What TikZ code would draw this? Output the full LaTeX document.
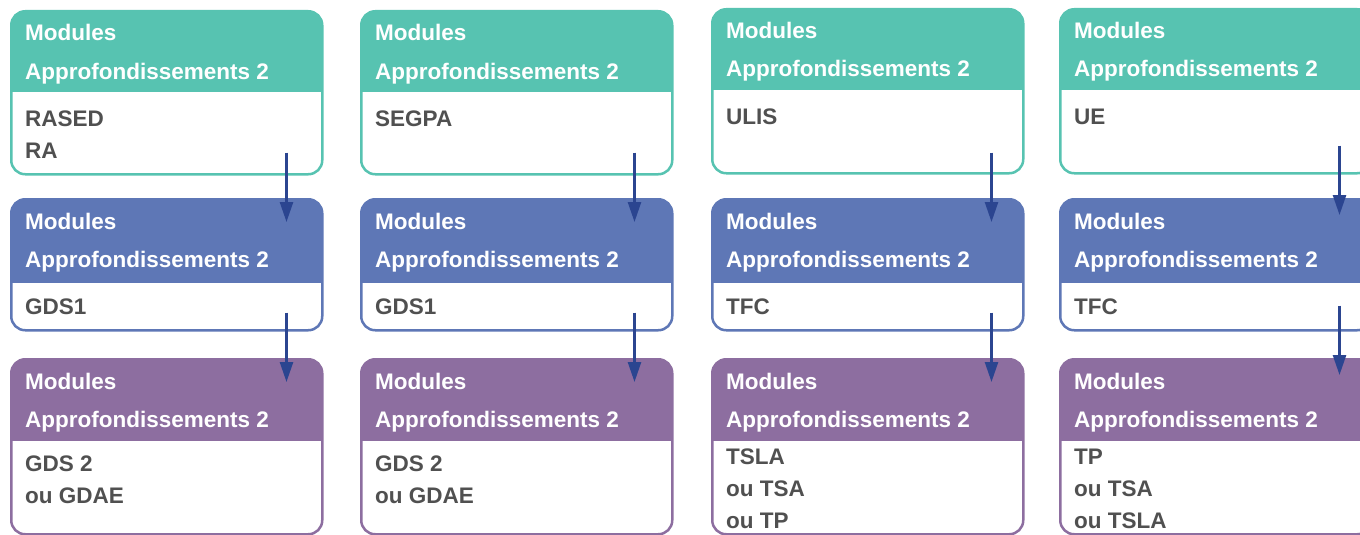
\documentclass[tikz,border=0pt]{standalone}
\usepackage{fontspec}
\setmainfont{Liberation Sans}
\usetikzlibrary{arrows.meta}
\definecolor{modTeal}{HTML}{57C3B1}
\definecolor{modBlue}{HTML}{5E77B6}
\definecolor{modPurple}{HTML}{8D6EA0}
\definecolor{modText}{HTML}{505050}
\definecolor{modArrow}{HTML}{2B4590}
\tikzset{
  modbox/.style 2 args={draw=#1,fill=white,line width=2.5pt,rounded corners=14pt,
    anchor=north west,minimum width=311pt,inner sep=0pt,
    path picture={\fill[#1,sharp corners] (path picture bounding box.north west) rectangle
      ([yshift=-#2pt]path picture bounding box.north east);}},
  headtxt/.style={anchor=base west,inner sep=0pt,text=white,
    font=\bfseries\fontsize{22.5}{26}\selectfont},
  bodytxt/.style={anchor=base west,inner sep=0pt,text=modText,
    font=\bfseries\fontsize{22.5}{26}\selectfont},
  arr/.style={modArrow,line width=2.5pt,-{Triangle[length=20pt,width=13pt]}}
}
% name, x, y, height, colour, [header height], [body offset], body lines
\NewDocumentCommand\ModBox{mmmmmO{82}O{116}m}%
{%
\node[modbox={#5}{#6},minimum height=#4pt] (#1) at (#2,#3) {};%
\node[headtxt] (#1m) at (#2+15,#3+31) {Modules};%
\node[headtxt] (#1a) at (#2+15,#3+69) {Approfondissements 2};%
\foreach \ln [count=\i] in {#8}
  \node[bodytxt] (#1b\i) at (#2+15,#3+#7+\i*32-32) {\ln};%
}

\begin{document}
\begin{tikzpicture}[x=1pt,y=-1pt]
\useasboundingbox (0,0) rectangle (1360,535);
% top row
\ModBox{r1c1}{10}{10}{163}{modTeal}[81]{RASED,RA}
\ModBox{r1c2}{360}{10}{163}{modTeal}[81]{SEGPA}
\ModBox{r1c3}{711}{8}{164}{modTeal}[81]{ULIS}
\ModBox{r1c4}{1059}{8}{164}{modTeal}[81]{UE}
% middle row
\ModBox{r2c1}{10}{198}{131}{modBlue}[84]{GDS1}
\ModBox{r2c2}{360}{198}{131}{modBlue}[84]{GDS1}
\ModBox{r2c3}{711}{198}{131}{modBlue}[84]{TFC}
\ModBox{r2c4}{1059}{198}{131}{modBlue}[84]{TFC}
% bottom row
\ModBox{r3c1}{10}{358}{175}{modPurple}[82][113]{GDS 2,ou GDAE}
\ModBox{r3c2}{360}{358}{175}{modPurple}[82][113]{GDS 2,ou GDAE}
\ModBox{r3c3}{711}{358}{175}{modPurple}[82][106]{TSLA,ou TSA,ou TP}
\ModBox{r3c4}{1059}{358}{175}{modPurple}[82][106]{TP,ou TSA,ou TSLA}
% arrows
\draw[arr] ([xshift=-37pt,yshift=23pt]r1c1.south east) -- ([xshift=-37pt,yshift=-24pt]r2c1.north east);
\draw[arr] ([xshift=-37pt,yshift=19pt]r2c1.south east) -- ([xshift=-37pt,yshift=-24pt]r3c1.north east);
\draw[arr] ([xshift=-39pt,yshift=23pt]r1c2.south east) -- ([xshift=-39pt,yshift=-24pt]r2c2.north east);
\draw[arr] ([xshift=-39pt,yshift=19pt]r2c2.south east) -- ([xshift=-39pt,yshift=-24pt]r3c2.north east);
\draw[arr] ([xshift=-33pt,yshift=22pt]r1c3.south east) -- ([xshift=-33pt,yshift=-24pt]r2c3.north east);
\draw[arr] ([xshift=-33pt,yshift=19pt]r2c3.south east) -- ([xshift=-33pt,yshift=-24pt]r3c3.north east);
\draw[arr] ([xshift=-33pt,yshift=29pt]r1c4.south east) -- ([xshift=-33pt,yshift=-17pt]r2c4.north east);
\draw[arr] ([xshift=-33pt,yshift=26pt]r2c4.south east) -- ([xshift=-33pt,yshift=-17pt]r3c4.north east);
\end{tikzpicture}
\end{document}
